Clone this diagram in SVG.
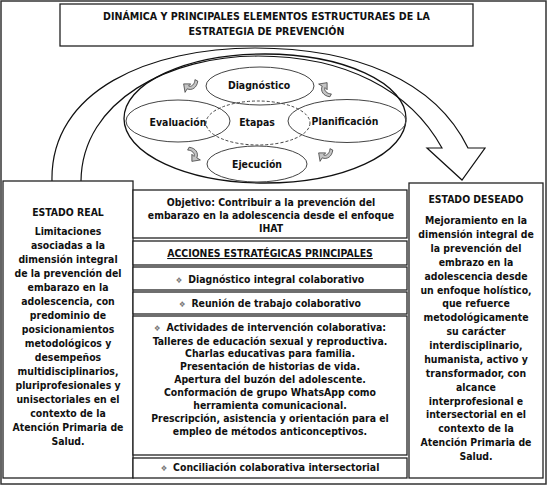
<svg xmlns="http://www.w3.org/2000/svg" width="547" height="485" viewBox="0 0 547 485">
<style>
text{font-family:"DejaVu Sans Condensed","DejaVu Sans",sans-serif;font-stretch:condensed;font-weight:bold;fill:#111;text-anchor:middle}
.t{font-size:10.6px}
.b{font-size:10.4px}
.box{fill:#fff;stroke:#222;stroke-width:1.3}
.el{fill:none;stroke:#444;stroke-width:1}
.bul{fill:#777;font-size:8px}
.ic{fill:#c4c4c4;stroke:#333;stroke-width:0.7}
</style>
<defs>
<path id="icon" d="M-2,9 C-6,4 -5,-2 0,-4 L-1,-8 L6,-3 L1,2 L1,-1 C-2,0 -2,5 1,8 Z"/>
</defs>
<rect x="1" y="1" width="545" height="483" fill="#fff" stroke="#333" stroke-width="1.5"/>
<g id="title">
<rect class="box" x="60" y="4" width="413" height="42"/>
<text class="t" x="266.5" y="20">DINÁMICA Y PRINCIPALES ELEMENTOS ESTRUCTURAES DE LA</text>
<text class="t" x="266.5" y="35">ESTRATEGIA DE PREVENCIÓN</text>
</g>
<g id="connectors">
<path d="M52,181 C50,90 150,48 255,48 C355,48 435,80 468,148 L485,148 L462,180 L427,148 L442,148 C410,90 345,56 258,56 C170,56 82,100 81,181" fill="#fff" stroke="#111" stroke-width="1.2"/>
</g>
<g id="cycle">
<ellipse cx="265" cy="118.5" rx="141" ry="64.5" fill="none" stroke="#111" stroke-width="1.3"/>
<ellipse class="el" cx="260" cy="86" rx="54" ry="19"/>
<ellipse class="el" cx="178" cy="121" rx="52" ry="21"/>
<ellipse class="el" cx="347" cy="121" rx="59" ry="21.5"/>
<ellipse class="el" cx="257" cy="164" rx="50" ry="18"/>
<ellipse class="el" cx="258" cy="123" rx="52" ry="22" stroke-dasharray="3,2"/>
<text class="b" x="259" y="89">Diagnóstico</text>
<text class="b" x="178" y="126">Evaluación</text>
<text class="b" x="257" y="126">Etapas</text>
<text class="b" x="345" y="125">Planificación</text>
<text class="b" x="257" y="168">Ejecución</text>
<use href="#icon" class="ic" transform="translate(190,86) rotate(225)"/>
<use href="#icon" class="ic" transform="translate(325,89) rotate(-45)"/>
<use href="#icon" class="ic" transform="translate(325,155) rotate(225)"/>
<use href="#icon" class="ic" transform="translate(194,155) rotate(135)"/>
</g>
<g id="estado-real">
<rect class="box" x="3" y="181" width="130" height="297"/>
<text class="b" x="68" y="216">ESTADO REAL</text>
<text class="b" x="68" y="235">Limitaciones</text>
<text class="b" x="68" y="249">asociadas a la</text>
<text class="b" x="68" y="263">dimensión integral</text>
<text class="b" x="68" y="277">de la prevención del</text>
<text class="b" x="68" y="291">embarazo en la</text>
<text class="b" x="68" y="305">adolescencia, con</text>
<text class="b" x="68" y="319">predominio de</text>
<text class="b" x="68" y="333">posicionamientos</text>
<text class="b" x="68" y="347">metodológicos y</text>
<text class="b" x="68" y="361">desempeños</text>
<text class="b" x="68" y="375">multidisciplinarios,</text>
<text class="b" x="68" y="389">pluriprofesionales y</text>
<text class="b" x="68" y="403">unisectoriales en el</text>
<text class="b" x="68" y="417">contexto de la</text>
<text class="b" x="68" y="431">Atención Primaria de</text>
<text class="b" x="68" y="445">Salud.</text>
</g>
<g id="estado-deseado">
<rect class="box" x="409" y="183" width="134" height="295"/>
<text class="b" x="476" y="203">ESTADO DESEADO</text>
<text class="b" x="476" y="224">Mejoramiento en la</text>
<text class="b" x="476" y="238">dimensión integral de</text>
<text class="b" x="476" y="252">la prevención del</text>
<text class="b" x="476" y="265.5">embrazo en la</text>
<text class="b" x="476" y="279.5">adolescencia desde</text>
<text class="b" x="476" y="293.5">un enfoque holístico,</text>
<text class="b" x="476" y="307">que refuerce</text>
<text class="b" x="476" y="321">metodológicamente</text>
<text class="b" x="476" y="335">su carácter</text>
<text class="b" x="476" y="349">interdisciplinario,</text>
<text class="b" x="476" y="363">humanista, activo y</text>
<text class="b" x="476" y="376.5">transformador, con</text>
<text class="b" x="476" y="390.5">alcance</text>
<text class="b" x="476" y="404.5">interprofesional e</text>
<text class="b" x="476" y="418">intersectorial en el</text>
<text class="b" x="476" y="432">contexto de la</text>
<text class="b" x="476" y="446">Atención Primaria de</text>
<text class="b" x="476" y="460">Salud.</text>
</g>
<g id="objetivo">
<rect class="box" x="133" y="190" width="274" height="48"/>
<text class="b" x="271" y="206">Objetivo: Contribuir a la prevención del</text>
<text class="b" x="271" y="219">embarazo en la adolescencia desde el enfoque</text>
<text class="b" x="271" y="232">IHAT</text>
</g>
<g id="acciones">
<rect class="box" x="133" y="241" width="274" height="24"/>
<text class="b" x="270" y="257" text-decoration="underline">ACCIONES ESTRATÉGICAS PRINCIPALES</text>
</g>
<g id="diagnostico-integral">
<rect class="box" x="133" y="267" width="274" height="23"/>
<text class="b" x="270" y="283"><tspan class="bul">❖</tspan><tspan dx="6">Diagnóstico integral colaborativo</tspan></text>
</g>
<g id="reunion">
<rect class="box" x="133" y="292" width="274" height="22"/>
<text class="b" x="270" y="307"><tspan class="bul">❖</tspan><tspan dx="6">Reunión de trabajo colaborativo</tspan></text>
</g>
<g id="actividades">
<rect class="box" x="133" y="316" width="274" height="139"/>
<text class="b" x="270" y="331"><tspan class="bul">❖</tspan><tspan dx="6">Actividades de intervención colaborativa:</tspan></text>
<text class="b" x="270" y="344.5">Talleres de educación sexual y reproductiva.</text>
<text class="b" x="270" y="357">Charlas educativas para familia.</text>
<text class="b" x="270" y="370">Presentación de historias de vida.</text>
<text class="b" x="270" y="383">Apertura del buzón del adolescente.</text>
<text class="b" x="270" y="396">Conformación de grupo WhatsApp como</text>
<text class="b" x="270" y="409">herramienta comunicacional.</text>
<text class="b" x="270" y="422">Prescripción, asistencia y orientación para el</text>
<text class="b" x="270" y="435">empleo de métodos anticonceptivos.</text>
</g>
<g id="conciliacion">
<rect class="box" x="133" y="458" width="274" height="20"/>
<text class="b" x="270" y="471"><tspan class="bul">❖</tspan><tspan dx="6">Conciliación colaborativa intersectorial</tspan></text>
</g>
</svg>
